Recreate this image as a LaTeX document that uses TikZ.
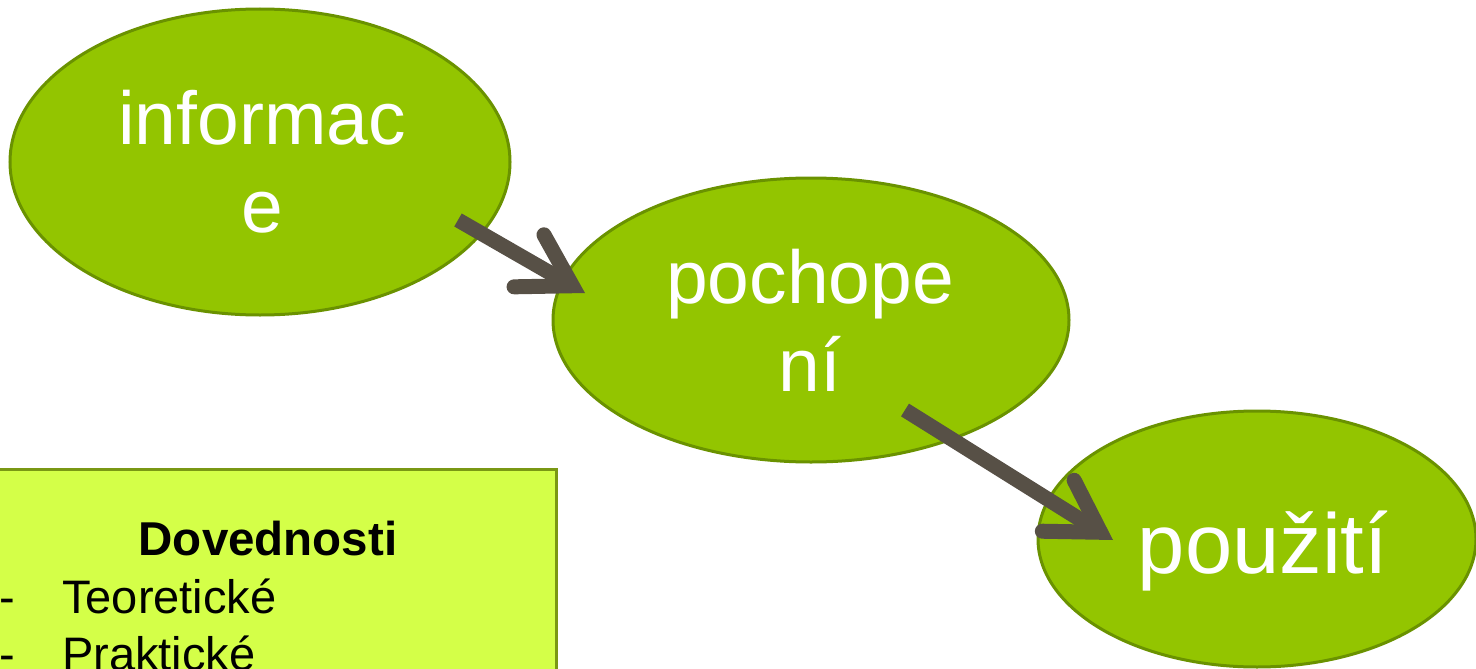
\documentclass[tikz,border=0pt]{standalone}
\usepackage{fontspec}
\setmainfont{Liberation Sans}
\usetikzlibrary{shapes.geometric,arrows.meta}
\definecolor{ellfill}{RGB}{147,197,0}
\definecolor{elldraw}{RGB}{106,146,0}
\definecolor{arrowcol}{RGB}{87,80,70}
\definecolor{boxfill}{RGB}{212,255,72}
\definecolor{boxdraw}{RGB}{122,152,20}
\tikzset{
  bubble/.style={ellipse, draw=elldraw, fill=ellfill, line width=3pt, inner sep=0pt},
  bigtext/.style={text=white, inner sep=0pt, align=center, font=\fontsize{75}{88}\selectfont},
  hugetext/.style={text=white, inner sep=0pt, font=\fontsize{85}{96}\selectfont},
  conn/.style={draw=arrowcol, line width=15pt,
    -{Straight Barb[length=50pt, width=60pt, line cap=round, line join=miter]}},
  skillbox/.style={rectangle, draw=boxdraw, fill=boxfill, line width=3pt, inner sep=0pt, anchor=north west},
  boxtext/.style={text=black, inner sep=0pt, font=\fontsize{47}{55}\selectfont}
}
\begin{document}
\begin{tikzpicture}[x=1pt,y=-1pt]
\useasboundingbox (0,0) rectangle (1476,669);
% ellipses
\node[bubble, minimum width=500pt, minimum height=306pt] (e1) at (260,162) {};
\node[bubble, minimum width=516pt, minimum height=284pt] (e2) at (811,320) {};
\node[bubble, minimum width=438pt, minimum height=256pt] (e3) at (1257,539) {};
% texts
\node[bigtext] (t1) at (262,162) {informac\\e};
\node[bigtext] (t2) at (810,320) {pochope\\ní};
\node[hugetext, anchor=base] (t3) at (1263,573) {použití};
% arrows
\coordinate (a1s) at (458,220);
\coordinate (a1e) at (585,293);
\coordinate (a2s) at (905,410);
\coordinate (a2e) at (1113,540);
\draw[conn] (a1s) -- (a1e);
\draw[conn] (a2s) -- (a2e);
% skill box
\node[skillbox, minimum width=560pt, minimum height=230pt] (box) at (-5,468) {};
\node[boxtext, anchor=base, font=\fontsize{47.5}{55}\selectfont\bfseries] (title) at (268,555) {Dovednosti};
\node[boxtext, anchor=base west] (d1) at (-1,613) {-};
\node[boxtext, anchor=base west] (s1) at (62,613) {Teoretické};
\node[boxtext, anchor=base west] (d2) at (-1,670) {-};
\node[boxtext, anchor=base west] (s2) at (62,670) {Praktické};
\end{tikzpicture}
\end{document}
